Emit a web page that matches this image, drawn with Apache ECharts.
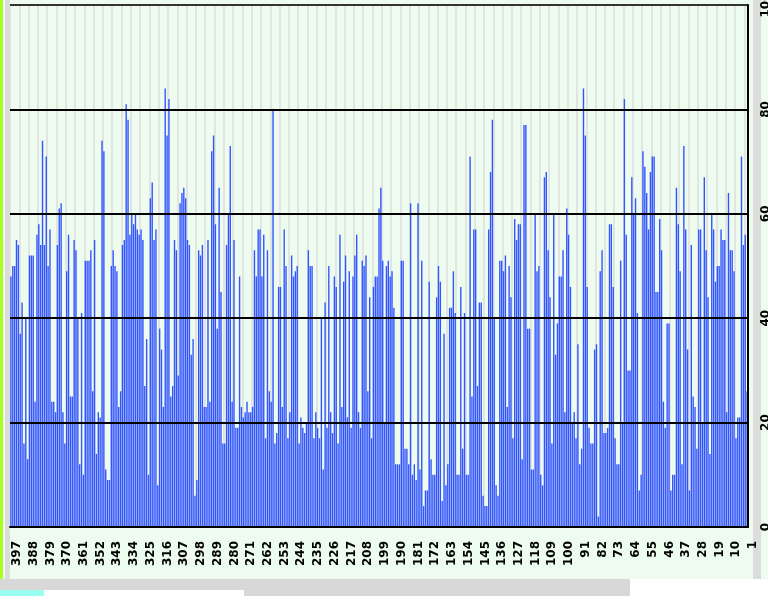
<!DOCTYPE html>
<html>
<head>
<meta charset="utf-8">
<script src="https://cdn.jsdelivr.net/npm/echarts@6/dist/echarts.min.js"></script>
<style>
  html, body { margin: 0; padding: 0; background: #eefcf0; }
  #chart { width: 768px; height: 596px; }
</style>
</head>
<body>
<div id="chart"></div>
<script>
// x categories run from 397 down to 1
const categories = []
for (let n = 397; n >= 1; n--) categories.push(String(n))

// bar heights, read left to right in four strips
const valuesA = [48, 50, 50, 55, 54, 37, 43, 16, 40, 13, 52, 52, 52, 24, 56, 58, 54, 74, 54, 71,
  50, 57, 24, 24, 22, 54, 61, 62, 22, 16, 49, 56, 25, 25, 55, 53, 40, 12, 41, 10,
  51, 51, 51, 53, 26, 55, 14, 22, 21, 74, 72, 11, 9, 9, 50, 53, 50, 49, 23, 26,
  54, 55, 81, 78, 56, 60, 58, 60, 57, 56, 57, 55, 27, 36, 10, 63, 66, 55, 57, 8,
  38, 34, 23, 84, 75, 82, 25, 27, 55, 53, 29, 62, 64, 65, 63, 55, 54, 33, 36, 6, 9]
const valuesB = [53, 52, 54, 23, 23, 55, 24, 72, 75, 58, 38, 65, 45, 16, 16, 54, 60, 73, 24, 55,
  19, 19, 48, 23, 21, 22, 24, 22, 22, 23, 53, 48, 57, 57, 48, 56, 17, 53, 26, 24,
  80, 16, 18, 46, 46, 23, 57, 50, 17, 22, 52, 48, 49, 50, 16, 21, 19, 18, 20, 53,
  50, 50, 17, 22, 19, 17, 40, 11, 43, 19, 50, 22, 18, 48, 46, 16, 56, 23, 47, 52,
  21, 49, 19, 48, 52, 56, 22, 19, 51, 50, 52, 26, 44, 17, 46, 48, 48, 61, 65, 51, 20]
const valuesC = [50, 51, 48, 49, 42, 12, 12, 12, 51, 51, 15, 15, 12, 62, 10, 12, 9, 62, 11, 51,
  4, 7, 7, 47, 13, 10, 10, 44, 50, 47, 5, 37, 8, 12, 42, 42, 49, 41, 10, 10,
  46, 15, 41, 10, 10, 71, 25, 57, 57, 27, 43, 43, 6, 4, 4, 57, 68, 78, 40, 8,
  6, 51, 51, 49, 52, 23, 50, 44, 17, 59, 55, 58, 58, 13, 77, 77, 38, 38, 11, 11,
  60, 49, 50, 10, 8, 67, 68, 53, 44, 16, 60, 33, 39, 48, 48, 53, 22, 61, 56, 46, 20]
const valuesD = [22, 17, 35, 12, 15, 84, 75, 46, 19, 16, 16, 34, 35, 2, 49, 53, 18, 18, 19, 58,
  58, 46, 17, 12, 12, 51, 20, 82, 56, 30, 30, 67, 60, 63, 41, 7, 10, 72, 69, 64,
  57, 68, 71, 71, 45, 45, 59, 53, 24, 19, 39, 39, 7, 10, 10, 65, 58, 49, 12,
  73, 57, 34, 7, 54, 25, 23, 15, 57, 57, 20, 67, 53, 44, 14, 60, 57, 47, 50, 50,
  57, 55, 55, 22, 64, 53, 53, 49, 17, 21, 21, 71, 54, 56, 26]
const values = valuesA.concat(valuesB, valuesC, valuesD)

const yTicks = [0, 20, 40, 60, 80, 100]

const chart = echarts.init(document.getElementById('chart'))
chart.setOption({
  backgroundColor: '#eefcf0',
  animation: false,
  graphic: [
    { type: 'rect', shape: { x: 0, y: 0, width: 3, height: 596 }, style: { fill: '#a8ff20' } },
    { type: 'rect', shape: { x: 5, y: 0, width: 5, height: 596 }, style: { fill: '#dcdcdc' } },
    { type: 'rect', shape: { x: 753, y: 0, width: 8, height: 579 }, style: { fill: '#dcdcdc' } },
    { type: 'rect', shape: { x: 0, y: 579, width: 630, height: 17 }, style: { fill: '#d8d8d8' } },
    { type: 'rect', shape: { x: 630, y: 579, width: 138, height: 17 }, style: { fill: '#ffffff' } },
    { type: 'rect', shape: { x: 0, y: 590, width: 44, height: 6 }, style: { fill: '#99fff0' } },
    { type: 'rect', shape: { x: 44, y: 590, width: 200, height: 6 }, style: { fill: '#ffffff' } }
  ],
  grid: {
    left: 10,
    right: 20,
    top: 5,
    bottom: 69,
    outerBoundsMode: 'none'
  },
  xAxis: {
    type: 'category',
    data: categories,
    z: 0,
    axisLine: { lineStyle: { color: '#000', width: 2 } },
    axisTick: { interval: 0, length: 6, lineStyle: { color: '#000' } },
    axisLabel: {
      interval: 8,
      rotate: 90,
      margin: 14,
      verticalAlign: 'top',
      fontSize: 12,
      fontWeight: 'bold',
      fontFamily: 'DejaVu Sans',
      color: '#000'
    },
    splitLine: { show: true, interval: 4, lineStyle: { color: '#dcdcdc', width: 1.5, type: 'solid' } }
  },
  yAxis: {
    type: 'value',
    position: 'right',
    z: 5,
    min: yTicks[0],
    max: yTicks[yTicks.length - 1],
    interval: 20,
    axisLine: { show: true, lineStyle: { color: '#000', width: 2 } },
    axisTick: { show: false },
    axisLabel: {
      rotate: 90,
      margin: 12,
      fontSize: 12,
      fontWeight: 'bold',
      fontFamily: 'DejaVu Sans',
      color: '#000'
    },
    splitLine: {
      lineStyle: {
        color: ['#000', '#000', '#000', '#000', '#000', '#333'],
        width: 2,
        type: 'solid'
      }
    }
  },
  series: [
    {
      type: 'bar',
      data: values,
      barWidth: 1.4,
      itemStyle: { color: '#3355ff' }
    }
  ]
})
</script>
</body>
</html>
